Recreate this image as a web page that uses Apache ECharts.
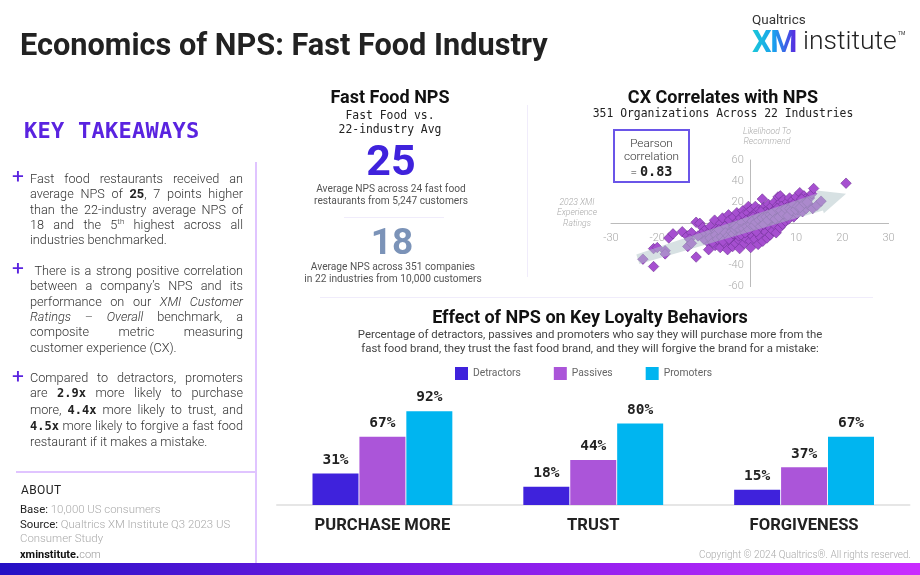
<!DOCTYPE html>
<html>
<head>
<meta charset="utf-8">
<title>Economics of NPS: Fast Food Industry</title>
<script src="https://cdn.jsdelivr.net/npm/echarts@6/dist/echarts.min.js"></script>
<style>
html,body{margin:0;padding:0;background:#fff}
#page{position:relative;width:920px;height:575px;overflow:hidden;font-family:Roboto,sans-serif;color:#444}
#myChart{position:absolute;left:0;top:0;width:920px;height:575px}
.t{position:absolute;white-space:nowrap;line-height:1}
.c{text-align:center;transform:translateX(-50%)}
.mono{font-family:"DejaVu Sans Mono",monospace}
.head{font-weight:700;font-size:18px;color:#111}
.sub{font-family:"DejaVu Sans Mono",monospace;font-size:11.4px;color:#222}
.note{font-size:10.2px;line-height:11.6px;color:#555}
.axisname{font-size:8.6px;line-height:10.3px;font-style:italic;font-weight:300;color:#aaa;text-align:center}
.para{position:absolute;left:30px;width:213px;font-size:12.7px;line-height:15.35px;font-weight:300;color:#333;text-align:justify}
.para b{font-weight:700;color:#222}
.para b.mono{font-size:12px}
.para sup{font-size:8px;line-height:0}
.plus{position:absolute;left:12px;font-size:21px;line-height:1;color:#5a23e0;font-weight:400}
.rule{position:absolute;background:#f0ecfb}
.violet{background:#e0c4ff}
</style>
</head>
<body>
<div id="page">
<div id="myChart"></div>

<div class="t" style="left:20px;top:30px;font-size:30.7px;font-weight:700;color:#222">Economics of NPS: Fast Food Industry</div>
<div class="t" style="left:752px;top:13px;font-size:13.5px;color:#333">Qualtrics</div>
<div class="t" style="left:752px;top:26px;font-size:31px;font-weight:700;letter-spacing:-1.5px;background:linear-gradient(90deg,#19c8d8,#1aa0ee,#5a28e0);-webkit-background-clip:text;background-clip:text;color:transparent">XM</div>
<div class="t" style="left:803px;top:27px;font-size:26.5px;font-weight:300;color:#222">institute</div>
<div class="t" style="left:898px;top:31px;font-size:5px;color:#333">TM</div>

<div class="t mono" style="left:24px;top:120px;font-size:22px;letter-spacing:.25px;font-weight:700;color:#5a23e0">KEY TAKEAWAYS</div>

<div class="plus" style="top:166px">+</div>
<div class="para" style="top:171px">Fast food restaurants received an average NPS of <b>25</b>, 7 points higher than the 22-industry average NPS of 18 and the 5<sup>th</sup> highest across all industries benchmarked.</div>
<div class="plus" style="top:258px">+</div>
<div class="para" style="top:263px">&nbsp;There is a strong positive correlation between a company’s NPS and its performance on our <i>XMI Customer Ratings – Overall</i> benchmark, a composite metric measuring customer experience (CX).</div>
<div class="plus" style="top:366px">+</div>
<div class="para" style="top:370px">Compared to detractors, promoters are <b class="mono">2.9x</b> more likely to purchase more, <b class="mono">4.4x</b> more likely to trust, and <b class="mono">4.5x</b> more likely to forgive a fast food restaurant if it makes a mistake.</div>

<div class="rule violet" style="left:255px;top:162px;width:1.5px;height:401px"></div>
<div class="rule violet" style="left:16px;top:471px;width:239px;height:1.5px"></div>

<div class="t" style="left:21px;top:484px;font-size:12px;color:#222;letter-spacing:.4px">ABOUT</div>
<div class="t" style="left:20px;top:504px;font-size:11.4px;font-weight:300;color:#aaa"><span style="color:#222;font-weight:400">Base:</span> 10,000 US consumers</div>
<div class="t" style="left:20px;top:517px;font-size:11.4px;line-height:14px;font-weight:300;color:#aaa;white-space:normal;width:230px"><span style="color:#222;font-weight:400">Source:</span> Qualtrics XM Institute Q3 2023 US Consumer Study</div>
<div class="t" style="left:20px;top:549px;font-size:11px;font-weight:700;color:#111">xminstitute.<span style="font-weight:300;color:#999">com</span></div>

<div class="t c head" style="left:390px;top:88px">Fast Food NPS</div>
<div class="t c sub" style="left:390px;top:108px;line-height:14.4px">Fast Food vs.<br>22-industry Avg</div>
<div class="t c" style="left:391px;top:139px;font-size:43px;font-weight:700;color:#3f22dc">25</div>
<div class="t c note" style="left:391px;top:183px">Average NPS across 24 fast food<br>restaurants from 5,247 customers</div>
<div class="rule" style="left:344px;top:217px;width:100px;height:1px"></div>
<div class="t c" style="left:392px;top:223px;font-size:37px;font-weight:700;color:#7b93b8">18</div>
<div class="t c note" style="left:393px;top:261px">Average NPS across 351 companies<br>in 22 industries from 10,000 customers</div>

<div class="rule" style="left:527px;top:105px;width:1px;height:172px"></div>
<div class="rule" style="left:320px;top:297px;width:553px;height:1px"></div>

<div class="t c head" style="left:723px;top:88px">CX Correlates with NPS</div>
<div class="t c sub" style="left:723px;top:108px">351 Organizations Across 22 Industries</div>
<div style="position:absolute;left:613px;top:129px;width:73px;height:50px;border:2px solid #6a55e8;text-align:center;font-size:11.8px;font-weight:300;line-height:13px;color:#333"><div style="margin-top:6px">Pearson<br>correlation</div><div style="margin-top:2px">= <b class="mono" style="font-size:13.5px;font-weight:700;color:#222">0.83</b></div></div>
<div class="t c axisname" style="left:767px;top:126px">Likelihood To<br>Recommend</div>
<div class="t c axisname" style="left:577px;top:197px">2023 XMI<br>Experience<br>Ratings</div>

<div class="t c head" style="left:590px;top:308px">Effect of NPS on Key Loyalty Behaviors</div>
<div class="t c" style="left:590px;top:327px;font-size:11.38px;line-height:14px;font-weight:400;color:#444">Percentage of detractors, passives and promoters who say they will purchase more from the<br>fast food brand, they trust the fast food brand, and they will forgive the brand for a mistake:</div>

<div class="t" style="right:9px;top:550px;font-size:10px;font-weight:300;color:#aaa">Copyright © 2024 Qualtrics®. All rights reserved.</div>
<div style="position:absolute;left:0;top:563px;width:920px;height:12px;background:linear-gradient(90deg,#2410c4,#7a1be6 45%,#c92cff)"></div>
</div>

<script type="text/javascript">
// bar chart data
var behaviors = ['PURCHASE MORE', 'TRUST', 'FORGIVENESS'];
var detractors = [31, 18, 15];
var passives = [67, 44, 37];
var promoters = [92, 80, 67];

// scatter axes
var xTicks = { min: -30, max: 30, interval: 10 };
var yTicks = { min: -60, max: 60, interval: 20 };

// trend arrow, from tail to tip, in axis units
var arrowTail = [-24.2, -34];
var arrowTip = [20.8, 28];

// [XMI rating, likelihood to recommend]
var organizations = [
	[-23.1,-34],[-20.8,-41],[-20.8,-24],[-20,-23],[-18.3,-26],[-18.3,-29],[-17.5,-14],[-16.6,-10],
	[-14.6,-8],[-13.5,-12],[-12.6,-9],[-11.6,1],[-10.8,0],[-11.6,-32],[-13,-15],[-13.4,-22],[-12.6,-19],
	[-10.2,-4],[-9.8,-7],[-9.4,-13],[-9,-18],[-8.9,-25],[-8.5,-3],[-8.1,-9],[-7.8,-15],[-7.5,-21],
	[-7.6,3],[-7.1,-5],[-6.9,-12],[-6.6,-17],[-6.4,-23],[-6.3,0],[-5.9,5],[-5.7,-7],[-5.5,-14],
	[-5.2,-20],[-5,-2],[-4.8,-25],[-4.6,8],[-4.4,3],[-4.3,-10],[-4.1,-17],[-3.8,-5],[-3.7,-22],
	[-3.5,6],[-3.3,-1],[-3.1,-13],[-3,-19],[-2.8,10],[-2.6,2],[-2.5,-7],[-2.3,-16],[-2.2,-24],
	[-2,5],[-1.8,-3],[-1.7,-10],[-1.5,12],[-1.3,8],[-1.2,-19],[-1,1],[-0.9,-14],[-0.7,-6],
	[-0.3,16],[-0.4,10],[-0.2,4],[-0.1,-9],[0,-2],[0.1,-17],[0.2,-23],[0.4,13],[0.5,7],[0.6,-12],
	[0.8,0],[0.9,-6],[1.1,-15],[1.2,16],[1.3,10],[1.5,4],[1.6,-3],[1.8,-20],[1.9,-10],[2,13],
	[2.2,7],[2.3,-13],[2.5,1],[2.7,23],[2.6,-5],[2.8,-17],[3,15],[3.1,10],[3.2,4],[3.4,-8],
	[3.6,-1],[3.7,-14],[3.9,13],[4,18],[4.1,7],[4.3,-4],[4.4,-11],[4.6,2],[4.7,16],[4.9,10],
	[5,-7],[5.1,5],[5.3,20],[5.4,13],[5.5,-2],[5.7,-9],[5.8,8],[6,17],[6.1,25],[6.2,3],[6.3,11],
	[6.5,-4],[6.6,26],[6.7,20],[6.9,6],[7,14],[7.1,-1],[7.3,22],[7.4,10],[7.6,17],[7.7,2],
	[7.9,7],[8.1,20],[8.2,13],[8.4,4],[8.6,24],[8.7,9],[8.9,17],[9.1,11],[9.3,22],[9.5,6],
	[9.6,15],[9.8,19],[10,25],[10.2,9],[10.4,13],[10.8,29],[11,21],[11.3,17],[11.4,11],[11.7,26],
	[12,23],[12.2,14],[12.6,18],[12.9,24],[13.4,28],[13.8,33],[13.6,14],[14.5,17],[15.4,21],[20.8,38],
	[-8.3,-11],[-7.2,-8],[-6,-10],[-4.9,-6],[-3.9,-12],[-2.7,-10],[-1.6,-8],[-1.1,-1],[0.3,-4],
	[1,3],[2.1,-1],[3.3,1],[4.2,4],[5.2,9],[6.4,8],[7.5,12],[8.3,10],[9.2,15],[-5.4,-3],[-3.4,-3],
	[-0.8,3],[0.7,6],[2.4,11],[3.8,9],[5.6,12],[6.8,16],[8,15],[10.6,19],[-1.9,0],[1.4,-8],
	[-9.9,-15],[-9.1,-10],[-8.6,-14],[-8,-18],[-7.4,-11],[-7,-15],[-6.7,-6],[-6.1,-13],[-5.8,-17],[-5.3,-9],
	[-4.7,-12],[-4.5,-15],[-4,-8],[-3.6,-10],[-3.2,-6],[-2.9,-4],[-2.4,-12],[-2.1,-6],[-1.9,-11],[-1.4,-5],
	[-1,-9],[-0.6,-3],[-0.2,-6],[0.2,-1],[0.5,2],[0.9,-2],[1.3,1],[1.7,6],[2,3],[2.3,-3],[2.7,5],[3,-1],
	[3.5,6],[3.9,3],[4.4,8],[4.8,6],[5,11],[5.5,4],[5.9,14],[6.3,6],[6.7,12],[7.2,9],[7.7,14],[8.2,7],
	[8.6,14],[9,12],[9.4,18],[9.9,13],[10.3,16],[10.9,15],[11.2,23],[11.8,19],[12.4,20],[-10.5,-10],[-11.2,-12]
];

var barColors = { detractors: '#3f22dc', passives: '#ab55d9', promoters: '#00b5f0' };

function barSeries(name, values, color)
{
	return {
		name: name,
		type: 'bar',
		xAxisIndex: 1,
		yAxisIndex: 1,
		barWidth: 46,
		barGap: '2%',
		data: values,
		itemStyle: { color: color },
		label: {
			show: true,
			position: 'top',
			distance: 6,
			formatter: '{c}%',
			fontFamily: 'DejaVu Sans Mono',
			fontWeight: 'bold',
			fontSize: 14.5,
			color: '#222'
		}
	};
}

// arrow outline is built around the tail-tip line, in pixels
function renderArrow(params, api)
{
	var a = api.coord(arrowTail), b = api.coord(arrowTip);
	var dx = b[0] - a[0], dy = b[1] - a[1], len = Math.sqrt(dx * dx + dy * dy);
	var ux = dx / len, uy = dy / len, nx = -uy, ny = ux;
	function at(along, off) { return [a[0] + ux * along + nx * off, a[1] + uy * along + ny * off]; }
	var neck = len - 27;
	return {
		type: 'polygon',
		shape: { points: [at(0, -5), at(neck, -9), at(neck, -12), at(len, 0), at(neck, 12), at(neck, 9), at(0, 5)] },
		style: { fill: 'rgba(175,195,200,0.5)' }
	};
}

var scatterLabel = { color: '#aaa', fontSize: 11, fontFamily: 'Roboto', fontWeight: 300 };

var option = {
	animation: false,
	textStyle: { fontFamily: 'Roboto' },
	legend: {
		left: 450,
		top: 362,
		itemWidth: 13,
		itemHeight: 13,
		itemGap: 33,
		icon: 'rect',
		data: ['Detractors', 'Passives', 'Promoters'],
		textStyle: { fontSize: 10.3, color: '#666', fontWeight: 400 }
	},
	grid: [
		{ left: 611, top: 160, width: 277.6, height: 126.6 },
		{ left: 277, top: 403, width: 632.5, height: 102 }
	],
	xAxis: [
		{
			type: 'value',
			gridIndex: 0,
			position: 'bottom',
			offset: -63.3,
			min: xTicks.min,
			max: xTicks.max,
			interval: xTicks.interval,
			splitLine: { show: false },
			axisTick: { show: false },
			axisLine: { onZero: false, lineStyle: { color: '#bbb', width: 1 } },
			axisLabel: Object.assign({ margin: 9, showMinLabel: true, showMaxLabel: true, formatter: function (v) { return v === 0 ? '' : v; } }, scatterLabel)
		},
		{
			type: 'category',
			gridIndex: 1,
			data: behaviors,
			axisTick: { show: false },
			axisLine: { lineStyle: { color: '#e6e6e6', width: 2 } },
			axisLabel: { margin: 12, fontFamily: 'Roboto', fontWeight: 'bold', fontSize: 16.6, color: '#222' }
		}
	],
	yAxis: [
		{
			type: 'value',
			gridIndex: 0,
			position: 'left',
			offset: -138.8,
			min: yTicks.min,
			max: yTicks.max,
			interval: yTicks.interval,
			splitLine: { show: false },
			axisTick: { show: false },
			axisLine: { show: true, onZero: false, lineStyle: { color: '#bbb', width: 1 } },
			axisLabel: Object.assign({ margin: 6, showMinLabel: true, showMaxLabel: true }, scatterLabel)
		},
		{
			type: 'value',
			gridIndex: 1,
			min: 0,
			max: 100,
			show: false
		}
	],
	series: [
		{
			name: 'Organizations',
			type: 'scatter',
			xAxisIndex: 0,
			yAxisIndex: 0,
			z: 3,
			symbol: 'diamond',
			symbolSize: 10.5,
			data: organizations,
			itemStyle: { color: '#a64fd0', opacity: 1, borderColor: '#6e3296', borderWidth: 0.6 }
		},
		{
			name: 'Trend',
			type: 'custom',
			xAxisIndex: 0,
			yAxisIndex: 0,
			z: 4,
			silent: true,
			renderItem: renderArrow,
			data: [arrowTail]
		},
		barSeries('Detractors', detractors, barColors.detractors),
		barSeries('Passives', passives, barColors.passives),
		barSeries('Promoters', promoters, barColors.promoters)
	]
};
echarts.init(document.getElementById('myChart')).setOption(option);
</script>
</body>
</html>
